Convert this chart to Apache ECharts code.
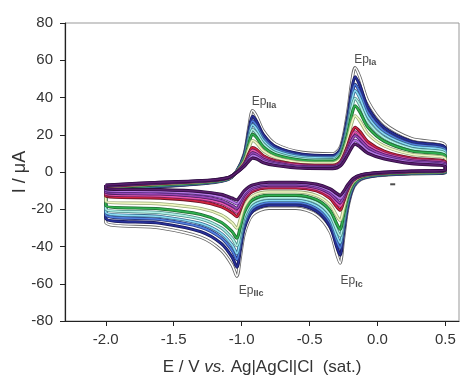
<!DOCTYPE html>
<html>
<head>
<meta charset="utf-8">
<script src="https://cdn.jsdelivr.net/npm/echarts@6/dist/echarts.min.js"></script>
<style>
html,body{margin:0;padding:0;background:#fff;}
#chart{width:461px;height:379px;}
</style>
</head>
<body>
<div id="chart"></div>
<script>
// Potentials (V) of the anodic (upper) and cathodic (lower) branches
const E_up = [-2.0, -1.6, -1.25, -1.1, -1.04, -0.98, -0.945, -0.92, -0.89, -0.84, -0.75, -0.55, -0.33, -0.27, -0.22, -0.19, -0.165, -0.13, -0.07, 0.05, 0.25, 0.5];
const E_down = [0.5, 0.25, 0.0, -0.12, -0.18, -0.22, -0.25, -0.275, -0.3, -0.35, -0.45, -0.6, -0.8, -0.92, -0.98, -1.01, -1.035, -1.07, -1.15, -1.3, -1.6, -2.0];

// Currents (µA), one pair per voltammogram (outer -> inner)
const upWhite = [-10, -8, -6, -4, 0, 10, 25, 33, 30, 22, 15, 10.5, 9.8, 14, 32, 48, 56, 51, 38, 26, 18, 14];
const downWhite = [-0.5, -1, -2, -4, -9, -20, -36, -49, -44, -32, -23, -19.5, -19.5, -23, -33, -46, -56, -50, -42, -35, -30, -27];
const upNavy = [-9.6, -7.7, -5.8, -3.9, -0.1, 9.2, 22.7, 29.9, 27.2, 20, 13.6, 9.5, 8.8, 12.7, 29.2, 43.8, 51.1, 46.5, 34.6, 23.7, 16.4, 12.7];
const downNavy = [-0.3, -0.8, -1.8, -3.7, -8.3, -18.4, -32.9, -44.6, -40.1, -29.2, -21, -17.8, -17.8, -21.1, -30.2, -42, -51.1, -45.7, -38.4, -32.1, -27.5, -24.8];
const upBlue = [-9.3, -7.5, -5.7, -3.8, -0.1, 8.5, 20.8, 27.4, 24.9, 18.3, 12.5, 8.6, 8, 11.7, 26.9, 40.3, 47, 42.8, 31.8, 21.8, 15, 11.6];
const downBlue = [-0.2, -0.7, -1.6, -3.5, -7.8, -17.1, -30.4, -41, -36.9, -26.9, -19.4, -16.4, -16.4, -19.5, -27.9, -38.7, -47, -42.1, -35.4, -29.6, -25.5, -23];
const upCyan = [-9.1, -7.3, -5.6, -3.7, -0.2, 7.9, 19.3, 25.4, 23.1, 16.9, 11.6, 8, 7.4, 10.9, 25.1, 37.5, 43.7, 39.8, 29.6, 20.3, 14, 10.7];
const downCyan = [0, -0.6, -1.5, -3.3, -7.4, -16.1, -28.4, -38.1, -34.3, -25.1, -18.1, -15.3, -15.3, -18.2, -26.1, -36.1, -43.7, -39.2, -33, -27.7, -23.9, -21.6];
const upTeal = [-8.8, -7, -5.4, -3.6, -0.2, 7.2, 17.4, 22.8, 20.8, 15.2, 10.4, 7.1, 6.6, 9.8, 22.8, 34, 39.6, 36, 26.8, 18.4, 12.6, 9.6];
const downTeal = [0.1, -0.4, -1.3, -3, -6.8, -14.8, -25.8, -34.4, -31, -22.8, -16.4, -13.9, -13.9, -16.6, -23.8, -32.8, -39.6, -35.6, -30, -25.2, -21.8, -19.8];
const upGreen = [-8.5, -6.8, -5.3, -3.5, -0.3, 6.5, 15.5, 20.3, 18.5, 13.5, 9.3, 6.3, 5.8, 8.8, 20.5, 30.5, 35.5, 32.3, 24, 16.5, 11.3, 8.5];
const downGreen = [0.3, -0.3, -1.2, -2.8, -6.3, -13.5, -23.3, -30.8, -27.8, -20.5, -14.8, -12.5, -12.5, -15, -21.5, -29.5, -35.5, -32, -27, -22.8, -19.8, -18];
const upPale = [-8.1, -6.4, -5.1, -3.4, -0.3, 5.6, 13, 16.9, 15.5, 11.3, 7.8, 5.1, 4.8, 7.4, 17.5, 26, 30.2, 27.4, 20.4, 14, 9.5, 7.1];
const downPale = [0.4, -0.1, -0.9, -2.4, -5.5, -11.8, -19.9, -26, -23.5, -17.5, -12.6, -10.7, -10.7, -12.9, -18.5, -25.2, -30.2, -27.3, -23.1, -19.6, -17.1, -15.7];
const upRed = [-7.7, -6.1, -4.8, -3.2, -0.4, 4.5, 10.2, 13.1, 12.1, 8.7, 6, 3.9, 3.6, 5.8, 14.1, 20.7, 24, 21.8, 16.2, 11.2, 7.5, 5.4];
const downRed = [0.7, 0.2, -0.7, -2.1, -4.7, -9.9, -16.1, -20.5, -18.7, -14.1, -10.1, -8.6, -8.6, -10.5, -15.1, -20.3, -24, -21.9, -18.6, -15.9, -14, -13];
const upMagenta = [-7.5, -5.9, -4.7, -3.2, -0.4, 4.1, 9, 11.6, 10.7, 7.7, 5.3, 3.4, 3.1, 5.2, 12.7, 18.6, 21.6, 19.5, 14.5, 10, 6.7, 4.8];
const downMagenta = [0.8, 0.3, -0.6, -1.9, -4.4, -9.1, -14.6, -18.3, -16.7, -12.7, -9.1, -7.7, -7.7, -9.6, -13.7, -18.3, -21.6, -19.8, -16.8, -14.4, -12.8, -11.9];
const upPurple = [-7.3, -5.8, -4.7, -3.1, -0.4, 3.8, 8.1, 10.3, 9.5, 6.9, 4.8, 2.9, 2.7, 4.7, 11.5, 16.9, 19.5, 17.6, 13.1, 9.1, 6, 4.2];
const downPurple = [0.8, 0.3, -0.5, -1.8, -4.1, -8.4, -13.3, -16.5, -15.1, -11.5, -8.3, -7, -7, -8.8, -12.5, -16.6, -19.5, -18, -15.3, -13.2, -11.8, -11];
const upViolet = [-7.2, -5.6, -4.6, -3.1, -0.5, 3.4, 7, 8.8, 8.2, 5.9, 4.1, 2.4, 2.2, 4, 10.2, 14.8, 17, 15.4, 11.4, 8, 5.2, 3.6];
const downViolet = [0.9, 0.4, -0.4, -1.6, -3.8, -7.7, -11.8, -14.3, -13.1, -10.2, -7.3, -6.2, -6.2, -7.8, -11.2, -14.7, -17.1, -15.8, -13.5, -11.7, -10.5, -9.9];
const upDark = [-7, -5.5, -4.5, -3, -0.5, 3, 6, 7.5, 7, 5, 3.5, 2, 1.8, 3.5, 9, 13, 15, 13.5, 10, 7, 4.5, 3];
const downDark = [1, 0.5, -0.3, -1.5, -3.5, -7, -10.5, -12.5, -11.5, -9, -6.5, -5.5, -5.5, -7, -10, -13, -15, -14, -12, -10.5, -9.5, -9];

// Tick labels
const xTicks = [-2.0, -1.5, -1.0, -0.5, 0.0, 0.5];
const yTicks = [-80, -60, -40, -20, 0, 20, 40, 60, 80];

// Peak annotations
const peakSubs = ['Ia', 'IIa', 'IIc', 'Ic'];
const peakE = [-0.09, -0.835, -0.93, -0.19];
const peakI = [60.5, 37.5, -63.5, -58.5];

// Scan direction mark
const arrowE = [0.112];
const arrowI = [-6.6];

const curves = [
  {up: upWhite, down: downWhite, color: '#ffffff', edge: '#666666'},
  {up: upNavy, down: downNavy, color: '#27309a', edge: '#1a1a5a'},
  {up: upBlue, down: downBlue, color: '#5080e0', edge: '#2a3a80'},
  {up: upCyan, down: downCyan, color: '#8adcf4', edge: '#3a6a8e'},
  {up: upTeal, down: downTeal, color: '#b0f0e6', edge: '#4a8a86'},
  {up: upGreen, down: downGreen, color: '#30b050', edge: '#1e6a30'},
  {up: upPale, down: downPale, color: '#f0f8c4', edge: '#9aa878'},
  {up: upRed, down: downRed, color: '#d02440', edge: '#6a1626'},
  {up: upMagenta, down: downMagenta, color: '#e858b0', edge: '#7a2060'},
  {up: upPurple, down: downPurple, color: '#9a48b8', edge: '#4a2064'},
  {up: upViolet, down: downViolet, color: '#b87ae6', edge: '#5a3084'},
  {up: upDark, down: downDark, color: '#5a1e6e', edge: '#2e1040'}
];

function loop(c) {
  const pts = [];
  E_up.forEach((e, i) => pts.push([e, c.up[i]]));
  E_down.forEach((e, i) => pts.push([e, c.down[i]]));
  pts.push([E_up[0], c.up[0]]);
  return pts;
}

const series = [];
curves.forEach(c => {
  const d = loop(c);
  series.push({type: 'line', data: d, showSymbol: false, smooth: 0.3, silent: true,
    lineStyle: {color: c.edge, width: 3.2}, z: 2});
  series.push({type: 'line', data: d, showSymbol: false, smooth: 0.3, silent: true,
    lineStyle: {color: c.color, width: 1.6}, z: 2});
});

series.push({
  type: 'scatter', symbolSize: 1, itemStyle: {color: 'rgba(0,0,0,0)'}, z: 5,
  data: peakSubs.map((s, i) => ({value: [peakE[i], peakI[i]], sub: s})),
  label: {
    show: true, position: 'inside',
    formatter: p => '{ep|Ep}{sub|' + p.data.sub + '}',
    rich: {
      ep: {fontSize: 12, fontFamily: 'Liberation Sans, Arial, sans-serif', color: '#222', lineHeight: 15},
      sub: {fontSize: 9, fontFamily: 'Liberation Sans, Arial, sans-serif', color: '#222', fontWeight: 'bold', lineHeight: 15, padding: [7, 0, 0, 0]}
    }
  }
});

series.push({
  type: 'scatter', symbol: 'rect', symbolSize: [5, 2], z: 5,
  itemStyle: {color: '#222'},
  data: arrowE.map((e, i) => [e, arrowI[i]])
});

const chart = echarts.init(document.getElementById('chart'));
chart.setOption({
  animation: false,
  backgroundColor: '#fff',
  grid: {left: 65, right: 2, top: 23, bottom: 58, show: true, borderColor: '#999', borderWidth: 1,
    outerBoundsMode: 'none', containLabel: false},
  xAxis: {
    type: 'value', min: -2.3, max: 0.6,
    axisLine: {show: true, onZero: false, lineStyle: {color: '#222', width: 1.2}},
    axisTick: {show: true, length: 5, customValues: xTicks, lineStyle: {color: '#222'}},
    axisLabel: {customValues: xTicks, formatter: v => v.toFixed(1), fontSize: 15, color: '#333', margin: 11,
      fontFamily: 'Liberation Sans, Arial, sans-serif'},
    splitLine: {show: false},
    name: '{n|E / V }{i|vs.}{n| Ag|AgCl|Cl  (sat.)}',
    nameLocation: 'middle', nameGap: 38, nameMoveOverlap: false,
    nameTextStyle: {
      rich: {
        n: {fontSize: 17, color: '#333', fontFamily: 'Liberation Sans, Arial, sans-serif'},
        i: {fontSize: 17, color: '#333', fontStyle: 'italic', fontFamily: 'Liberation Sans, Arial, sans-serif'}
      }
    }
  },
  yAxis: {
    type: 'value', min: -80, max: 80, interval: 20,
    axisLine: {show: true, onZero: false, lineStyle: {color: '#222', width: 1.2}},
    axisTick: {show: true, length: 5, lineStyle: {color: '#222'}},
    axisLabel: {fontSize: 15, color: '#333', margin: 12, fontFamily: 'Liberation Sans, Arial, sans-serif'},
    splitLine: {show: false},
    name: 'I / μA', nameLocation: 'middle', nameGap: 36, nameRotate: 90, nameMoveOverlap: false,
    nameTextStyle: {fontSize: 18, color: '#333', fontFamily: 'Liberation Sans, Arial, sans-serif'}
  },
  series: series
});
</script>
</body>
</html>
